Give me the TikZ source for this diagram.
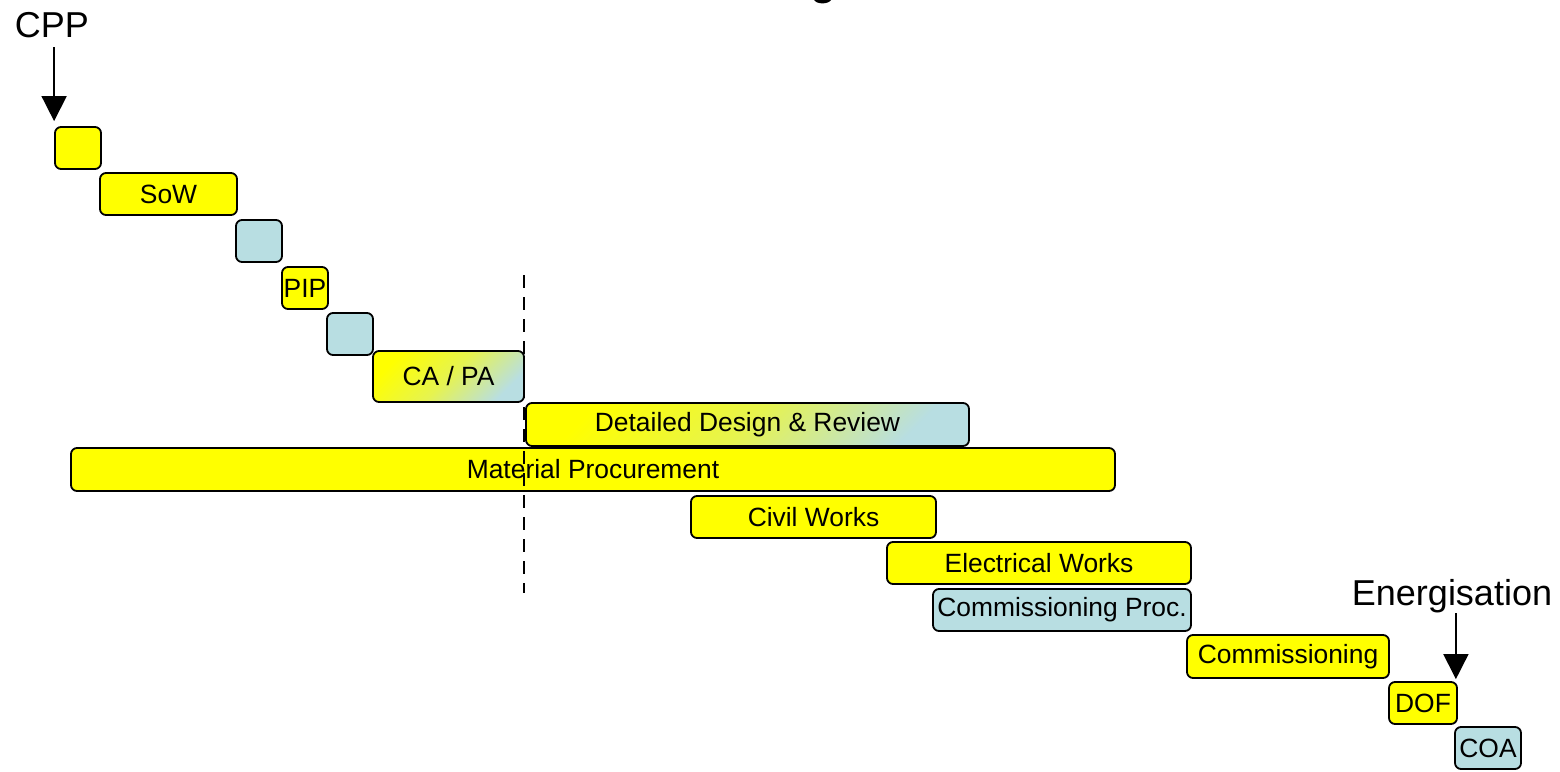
\documentclass[tikz,border=0pt]{standalone}
\usepackage{fontspec}
\setmainfont{Liberation Sans}
\usetikzlibrary{arrows.meta,calc}

\definecolor{barYellow}{RGB}{255,255,0}
\definecolor{barBlue}{RGB}{184,222,226}

\tikzset{
  bar/.style={draw=black, line width=1.8pt, rounded corners=6pt, inner sep=0pt,
              font=\fontsize{26.4}{30}\selectfont, text=black},
  ybar/.style={bar, fill=barYellow},
  bbar/.style={bar, fill=barBlue},
  gbar/.style={bar, top color=barYellow, bottom color=barBlue,
               middle color=barYellow!65!barBlue, shading angle=45},
  milestone/.style={font=\fontsize{36}{40}\selectfont, inner sep=0pt, anchor=base},
  pointer/.style={line width=1.6pt, -{Triangle[width=25pt,length=25pt]}},
  cutoff/.style={line width=1.6pt, dash pattern=on 13pt off 9pt}
}

\begin{document}
\begin{tikzpicture}[x=1pt,y=-1pt]
  \useasboundingbox (0,0) rectangle (1560,771);

  % descender of the heading above the chart
  \fill (814,0) .. controls (817,4.5) and (828,4.5) .. (831,0) -- cycle;

  % task bars
  \node[ybar, minimum width=46pt,   minimum height=42pt] (start) at (78,148)     {};
  \node[ybar, minimum width=137pt,  minimum height=42pt] (sow)   at (168.5,194)  {SoW};
  \node[bbar, minimum width=46pt,   minimum height=42pt] (rev1)  at (259,241)    {};
  \node[ybar, minimum width=46pt,   minimum height=42pt] (pip)   at (305,288)    {PIP};
  \node[bbar, minimum width=46pt,   minimum height=42pt] (rev2)  at (350,334)    {};
  \node[gbar, minimum width=151pt,  minimum height=51pt] (capa)  at (448.5,376.5) {CA / PA};
  \node[gbar, minimum width=443pt,  minimum height=43pt] (ddr)   at (747.5,424.5) {Detailed Design \& Review};
  \node[ybar, minimum width=1044pt, minimum height=43pt] (mat)   at (593,469.5)  {Material Procurement};
  \node[ybar, minimum width=245pt,  minimum height=42pt] (civil) at (813.5,517)  {Civil Works};
  \node[ybar, minimum width=304pt,  minimum height=42pt] (elec)  at (1039,563)   {Electrical Works};
  \node[bbar, minimum width=258pt,  minimum height=42pt] (cproc) at (1062,610)   {Commissioning Proc.};
  \node[ybar, minimum width=202pt,  minimum height=43pt] (comm)  at (1288,656.5) {Commissioning};
  \node[ybar, minimum width=68pt,   minimum height=42pt] (dof)   at (1423,703)   {DOF};
  \node[bbar, minimum width=66pt,   minimum height=42pt] (coa)   at (1488,748)   {COA};

  % milestones
  \node[milestone] (cpp)  at (52,37)    {CPP};
  \node[milestone] (ener) at (1452,605) {Energisation};
  \draw[pointer] ($(start.north west |- cpp.base)+(0,10)$) -- ($(start.north west)+(0,-5)$);
  \draw[pointer] ($(dof.north east |- ener.base)+(-2,8)$) -- ($(dof.north east)+(-2,-2)$);

  % cut-off line
  \coordinate (cutTop) at (524,275);
  \coordinate (cutBot) at (524,593);
  \draw[cutoff] (cutTop) -- (cutBot);
\end{tikzpicture}
\end{document}
